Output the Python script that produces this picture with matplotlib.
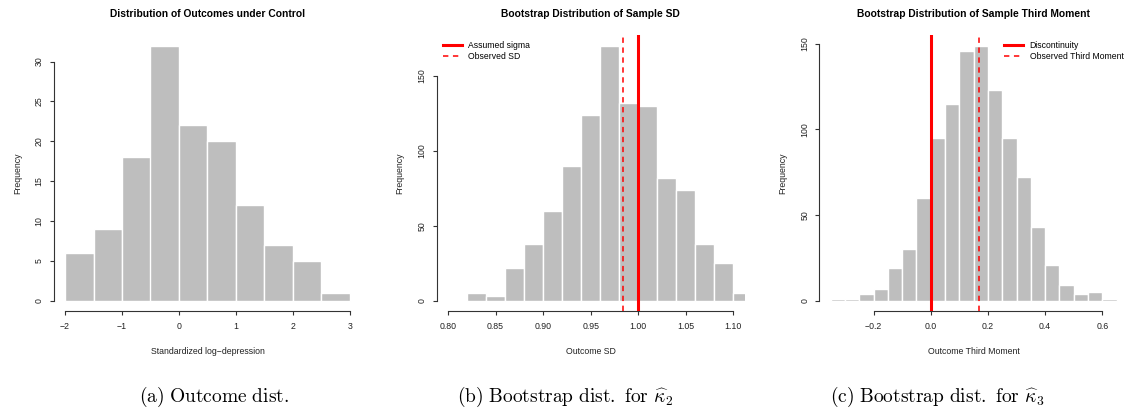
import numpy as np
import matplotlib
matplotlib.use("Agg")
import matplotlib.pyplot as plt
from matplotlib.lines import Line2D

plt.rcParams["font.family"] = ["Liberation Sans", "DejaVu Sans"]
plt.rcParams["mathtext.fontset"] = "cm"

# ---- data -------------------------------------------------------------
# (a) outcomes under control, bins of width 0.5 from -2 to 3
outcome_edges = [-2.0, -1.5, -1.0, -0.5, 0.0, 0.5, 1.0, 1.5, 2.0, 2.5, 3.0]
outcome_counts = [6, 9, 18, 32, 22, 20, 12, 7, 5, 1]

# (b) bootstrap sample SD, bins of width 0.02 from 0.82 to 1.12
sd_edges = [0.82, 0.84, 0.86, 0.88, 0.90, 0.92, 0.94, 0.96, 0.98,
            1.00, 1.02, 1.04, 1.06, 1.08, 1.10, 1.12]
sd_counts = [5, 3, 22, 38, 60, 90, 124, 170, 132, 130, 82, 74, 38, 25, 5]
assumed_sigma = 1.0
observed_sd = 0.984

# (c) bootstrap sample third moment, bins of width 0.05 from -0.35 to 0.65
m3_edges = [-0.35, -0.30, -0.25, -0.20, -0.15, -0.10, -0.05, 0.00, 0.05,
            0.10, 0.15, 0.20, 0.25, 0.30, 0.35, 0.40, 0.45, 0.50, 0.55,
            0.60, 0.65]
m3_counts = [1, 1, 4, 7, 19, 30, 60, 95, 115, 146, 149, 123, 95, 72, 43,
             21, 9, 4, 5, 1]
discontinuity = 0.0
observed_m3 = 0.168

# ---- figure -----------------------------------------------------------
W, H = 1130, 413
fig = plt.figure(figsize=(W / 100, H / 100), dpi=100)

BAR = "#BEBEBE"
AXC = "#333333"
TICK_FS = 6.3
LAB_FS = 6.3
TITLE_FS = 7.4
LEG_FS = 6.2


def px_axes(left, right, top, bottom):
    return fig.add_axes([left / W, 1 - bottom / H, (right - left) / W,
                         (bottom - top) / H])


def histo(ax, edges, counts, xlim, ylim, xticks, yticks, xfmt, title,
          xlabel):
    edges = np.asarray(edges)
    ax.bar(edges[:-1], counts, width=np.diff(edges), align="edge",
           color=BAR, edgecolor="white", linewidth=1.0, zorder=2)
    ax.set_xlim(*xlim)
    ax.set_ylim(*ylim)
    ax.set_xticks(xticks)
    ax.set_xticklabels([xfmt(v) for v in xticks])
    ax.set_yticks(yticks)
    ax.set_yticklabels([str(v) for v in yticks], rotation=90, va="center")
    for s in ("top", "right"):
        ax.spines[s].set_visible(False)
    ax.spines["left"].set_bounds(yticks[0], yticks[-1])
    ax.spines["bottom"].set_bounds(xticks[0], xticks[-1])
    for s in ("left", "bottom"):
        ax.spines[s].set_color(AXC)
        ax.spines[s].set_linewidth(0.8)
    ax.tick_params(axis="both", length=3.2, width=0.8, color=AXC,
                   labelsize=TICK_FS, labelcolor="#222222")
    ax.tick_params(axis="x", pad=4.5)
    ax.tick_params(axis="y", pad=4.0)
    ax.set_xlabel(xlabel, fontsize=LAB_FS, color="#222222", va="center")
    ax.xaxis.set_label_coords(0.5, -0.148)
    ax.set_ylabel("Frequency", fontsize=LAB_FS, color="#222222",
                  va="center")
    ax.yaxis.set_label_coords(-0.118, 0.5)
    bb = ax.get_position()
    fig.text(bb.x0 + bb.width / 2, 1 - 14 / H, title, ha="center",
             va="center", fontsize=TITLE_FS, fontweight="bold")


TOP, BOTTOM = 35.4, 310.9
DASH = (0, (3.5, 3))

# (a)
ax1 = px_axes(53.6, 361.4, TOP, BOTTOM)
histo(ax1, outcome_edges, outcome_counts, (-2.2, 3.2), (-1.28, 33.28),
      [-2, -1, 0, 1, 2, 3], [0, 5, 10, 15, 20, 25, 30],
      lambda v: f"{v}".replace("-", "\u2212"),
      "Distribution of Outcomes under Control",
      "Standardized log\u2212depression")

# (b)
ax2 = px_axes(436.6, 744.7, TOP, BOTTOM)
histo(ax2, sd_edges, sd_counts, (0.788, 1.112), (-6.8, 176.8),
      [0.80, 0.85, 0.90, 0.95, 1.00, 1.05, 1.10], [0, 50, 100, 150],
      lambda v: f"{v:.2f}",
      "Bootstrap Distribution of Sample SD", "Outcome SD")
ax2.axvline(assumed_sigma, color="red", linewidth=2.2, zorder=3)
ax2.axvline(observed_sd, color="red", linewidth=1.1, linestyle=DASH,
            zorder=3)
h2 = [Line2D([], [], color="red", linewidth=2.2),
      Line2D([], [], color="red", linewidth=1.1, linestyle=DASH)]
ax2.legend(h2, ["Assumed sigma", "Observed SD"], loc="upper left",
           bbox_to_anchor=(0.0, 1.003), frameon=False, fontsize=LEG_FS,
           handlelength=2.2, handletextpad=0.8, labelspacing=0.3,
           borderaxespad=0.3)

# (c)
ax3 = px_axes(819.3, 1128.0, TOP, BOTTOM)
histo(ax3, m3_edges, m3_counts, (-0.39, 0.69), (-5.96, 154.96),
      [-0.2, 0.0, 0.2, 0.4, 0.6], [0, 50, 100, 150],
      lambda v: f"{v:.1f}".replace("-", "\u2212"),
      "Bootstrap Distribution of Sample Third Moment", "Outcome Third Moment")
ax3.axvline(discontinuity, color="red", linewidth=2.2, zorder=3)
ax3.axvline(observed_m3, color="red", linewidth=1.1, linestyle=DASH,
            zorder=3)
h3 = [Line2D([], [], color="red", linewidth=2.2),
      Line2D([], [], color="red", linewidth=1.1, linestyle=DASH)]
ax3.legend(h3, ["Discontinuity", "Observed Third Moment"], loc="upper right",
           bbox_to_anchor=(1.005, 1.003), frameon=False, fontsize=LEG_FS,
           handlelength=2.2, handletextpad=0.8, labelspacing=0.3,
           borderaxespad=0.3)

# sub-captions
CAP_FS = 14
fig.text(214 / W, 1 - 397 / H, r"$\mathrm{(a)\ Outcome\ dist.}$",
         ha="center", va="center", fontsize=CAP_FS)
fig.text(565 / W, 1 - 397 / H,
         r"$\mathrm{(b)\ Bootstrap\ dist.\ for\ }\widehat{\kappa}_2$",
         ha="center", va="center", fontsize=CAP_FS)
fig.text(937 / W, 1 - 397 / H,
         r"$\mathrm{(c)\ Bootstrap\ dist.\ for\ }\widehat{\kappa}_3$",
         ha="center", va="center", fontsize=CAP_FS)

fig.savefig("out.png", dpi=100, facecolor="white")
